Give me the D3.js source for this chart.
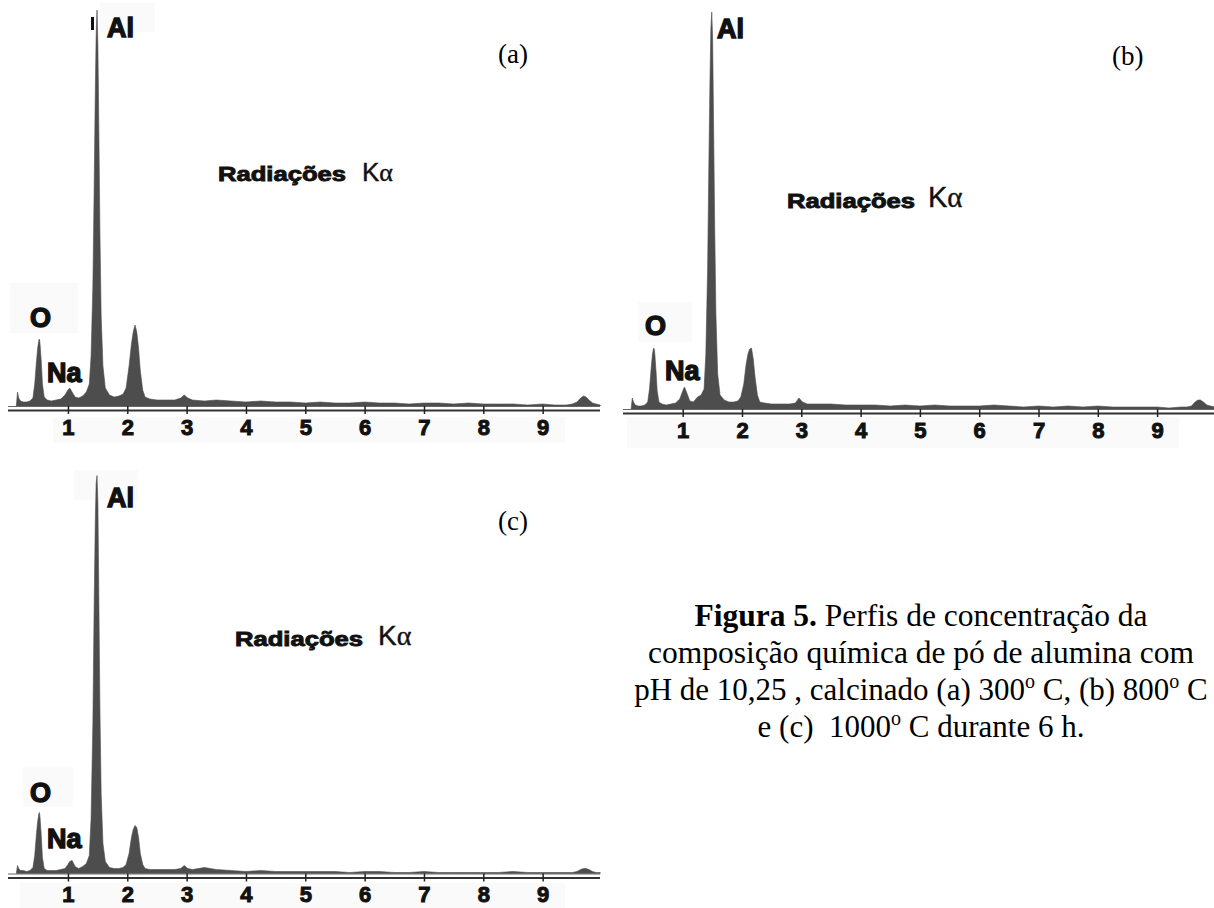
<!DOCTYPE html>
<html>
<head>
<meta charset="utf-8">
<title>Figura 5</title>
<script src="https://d3js.org/d3.v7.min.js"></script>
<style>
    body {
        margin: 0;
        background: #fff;
    }

    .lbl {
        font-family: "Liberation Sans", Arial, sans-serif;
        font-weight: bold;
        fill: #111;
        stroke: #111;
        stroke-width: 1.4px;
    }

    .tick text {
        font-family: "Liberation Sans", Arial, sans-serif;
        font-weight: bold;
        font-size: 22px;
        fill: #111;
        stroke: #111;
        stroke-width: 1px;
    }

    .tick line {
        stroke: #222;
        stroke-width: 1.5px;
    }

    .panel-name {
        font-family: "Liberation Serif", "Times New Roman", serif;
        font-size: 27px;
        fill: #000;
    }

    .caption {
        font-family: "Liberation Serif", "Times New Roman", serif;
        font-size: 31.5px;
        fill: #000;
        white-space: pre;
    }
</style>
</head>
<body>
<div id="chart"></div>
<script>
    // energy (keV) shared by the three spectra
    const energy = [0.13, 0.15, 0.17, 0.2, 0.25, 0.3, 0.36, 0.41, 0.44, 0.47, 0.49, 0.51, 0.52, 0.53, 0.55, 0.57, 0.6, 0.65,
        0.72, 0.8, 0.88, 0.95, 1.0, 1.03, 1.07, 1.12, 1.18, 1.25, 1.31, 1.36, 1.39, 1.42, 1.44, 1.46, 1.475, 1.49, 1.505,
        1.52, 1.54, 1.56, 1.59, 1.63, 1.7, 1.78, 1.86, 1.93, 1.98, 2.03, 2.07, 2.1, 2.13, 2.16, 2.19, 2.22, 2.26, 2.3,
        2.38, 2.5, 2.65, 2.8, 2.9, 2.96, 3.02, 3.1, 3.3, 3.5, 3.75, 4.0, 4.25, 4.5, 4.75, 5.0, 5.25, 5.5, 5.75, 6.0, 6.25,
        6.5, 6.75, 7.0, 7.25, 7.5, 7.75, 8.0, 8.25, 8.5, 8.75, 9.0, 9.2, 9.4, 9.5, 9.58, 9.64, 9.69, 9.73, 9.78, 9.84,
        9.9, 9.97];

    // counts, arbitrary units (Al peak ~ 400)
    const countsA = [0, 14, 8, 5, 4, 4, 5, 8, 22, 45, 58, 66, 67, 62, 45, 22, 9, 6,
        5, 6, 7, 11, 16, 18, 14, 9, 8, 10, 14, 22, 50, 120, 210, 310, 370, 396, 360,
        280, 170, 90, 40, 18, 11, 9, 10, 12, 18, 40, 62, 74, 81, 74, 58, 35, 16, 9,
        7, 6, 6, 6, 8, 11, 8, 6, 5, 6, 5, 4, 5, 4, 4, 3, 4, 3, 3, 4, 3,
        3, 2, 3, 3, 2, 3, 2, 2, 2, 1, 2, 1, 1, 2, 4, 8, 10, 9, 6, 3,
        2, 1];

    const countsB = [0, 11, 7, 4, 3, 3, 4, 7, 20, 42, 55, 61, 60, 55, 38, 18, 7, 5,
        4, 5, 6, 10, 18, 22, 16, 8, 7, 12, 14, 20, 55, 140, 240, 330, 380, 397, 370,
        290, 180, 95, 35, 14, 9, 7, 7, 8, 12, 25, 45, 55, 60, 61, 50, 32, 14, 7,
        6, 5, 5, 5, 6, 11, 7, 5, 5, 5, 4, 4, 4, 3, 4, 3, 4, 3, 3, 3, 4,
        3, 2, 3, 2, 3, 2, 3, 2, 2, 2, 2, 1, 2, 2, 3, 7, 9, 9, 7, 4,
        3, 2];

    const countsC = [0, 8, 5, 3, 3, 2, 3, 6, 18, 40, 52, 60, 61, 56, 38, 16, 5, 3,
        3, 3, 4, 5, 9, 12, 13, 7, 5, 7, 10, 18, 55, 150, 260, 350, 390, 398, 370,
        280, 160, 80, 30, 12, 6, 5, 5, 6, 9, 20, 36, 44, 48, 46, 36, 20, 9, 5,
        4, 4, 4, 4, 5, 8, 5, 4, 6, 4, 3, 2, 3, 2, 2, 2, 2, 2, 1, 2, 2,
        1, 1, 2, 1, 1, 1, 1, 1, 2, 1, 1, 1, 1, 1, 2, 4, 5, 5, 4, 2,
        1, 1];

    const tickValues = [1, 2, 3, 4, 5, 6, 7, 8, 9];
    const panelNames = ["(a)", "(b)", "(c)"];
    const elementLabels = ["Al", "O", "Na"];
    const radiationLabel = "Radiações";

    const width = 1214, height = 908;
    const fillColor = "#4d4d4d";

    // layout of each panel (pixels)
    const layout = [
        {
            counts: countsA, x0: 8.6, x10: 602, axisY: 406, line: [8, 600],
            labels: [[107, 37], [30, 327], [47, 382]], name: [498, 63],
            rad: [218, 181], ka: [362, 181], kaFont: 26,
            boxes: [[100, 3, 55, 29], [10, 283, 68, 50], [53, 417, 512, 26]], mark: [91, 17]
        },
        {
            counts: countsB, x0: 623.4, x10: 1216.4, axisY: 409, line: [623, 1214],
            labels: [[717, 38], [645, 335], [665, 380]], name: [1112, 65],
            rad: [787, 208], ka: [928, 207], kaFont: 29,
            boxes: [[638, 302, 54, 40], [627, 417, 552, 31]], mark: null
        },
        {
            counts: countsC, x0: 8.6, x10: 602, axisY: 873.5, line: [8, 600],
            labels: [[107, 507], [30, 802], [47, 848]], name: [498, 530],
            rad: [235, 646], ka: [378, 645], kaFont: 28,
            boxes: [[74, 470, 64, 30], [23, 767, 50, 40], [20, 883, 545, 25]], mark: null
        }
    ];

    const svg = d3.select("#chart").append("svg")
        .attr("width", width)
        .attr("height", height)
        .attr("viewBox", `0 0 ${width} ${height}`);

    svg.append("rect").attr("width", width).attr("height", height).attr("fill", "#fff");

    layout.forEach((p, i) => {
        const g = svg.append("g");

        // faint label boxes pasted over the original spectra
        g.selectAll("rect.box")
            .data(p.boxes)
            .join("rect")
            .attr("class", "box")
            .attr("x", d => d[0]).attr("y", d => d[1])
            .attr("width", d => d[2]).attr("height", d => d[3])
            .attr("fill", "#fafafa");

        const x = d3.scaleLinear().domain([0, 10]).range([p.x0, p.x10]);
        const y = d3.scaleLinear().domain([0, 400]).range([p.axisY, p.axisY - 400]);

        const series = energy.map((e, k) => ({ e, c: p.counts[k] }));

        const area = d3.area()
            .x(d => x(d.e))
            .y0(y(0))
            .y1(d => y(d.c));

        g.append("path")
            .datum(series)
            .attr("d", area)
            .attr("fill", fillColor)
            .attr("stroke", fillColor)
            .attr("stroke-width", 0.6);

        // double base line
        g.append("line")
            .attr("x1", p.line[0]).attr("x2", p.line[1])
            .attr("y1", p.axisY + 0.5).attr("y2", p.axisY + 0.5)
            .attr("stroke", "#666").attr("stroke-width", 1.2);
        g.append("line")
            .attr("x1", p.line[0]).attr("x2", p.line[1])
            .attr("y1", p.axisY + 4.5).attr("y2", p.axisY + 4.5)
            .attr("stroke", "#333").attr("stroke-width", 1.8);

        const axis = d3.axisBottom(x)
            .tickValues(tickValues)
            .tickSize(8)
            .tickSizeOuter(0)
            .tickPadding(5)
            .tickFormat(d3.format("d"));

        const ga = g.append("g")
            .attr("transform", `translate(0,${p.axisY})`)
            .call(axis);
        ga.select(".domain").remove();

        // element labels
        g.selectAll("text.lbl")
            .data(elementLabels)
            .join("text")
            .attr("class", "lbl")
            .attr("x", (d, k) => p.labels[k][0])
            .attr("y", (d, k) => p.labels[k][1])
            .attr("font-size", 27)
            .text(d => d);

        if (p.mark) {
            g.append("rect")
                .attr("x", p.mark[0]).attr("y", p.mark[1])
                .attr("width", 3).attr("height", 13)
                .attr("fill", "#111");
        }

        g.append("text")
            .attr("class", "panel-name")
            .attr("x", p.name[0]).attr("y", p.name[1])
            .text(panelNames[i]);

        g.append("text")
            .attr("class", "lbl")
            .attr("x", p.rad[0]).attr("y", p.rad[1])
            .attr("font-size", 20)
            .style("stroke-width", "0.9px")
            .attr("textLength", 128)
            .attr("lengthAdjust", "spacingAndGlyphs")
            .text(radiationLabel);

        const ka = g.append("text")
            .attr("x", p.ka[0]).attr("y", p.ka[1])
            .attr("font-size", p.kaFont)
            .attr("fill", "#111")
            .attr("stroke", "#111")
            .attr("stroke-width", 0.4);
        ka.append("tspan")
            .attr("font-family", "Liberation Sans, Arial, sans-serif")
            .text("K");
        ka.append("tspan")
            .attr("font-family", "Liberation Serif, Times New Roman, serif")
            .text("α");
    });

    // caption
    const cx = 921;
    const cap = svg.append("g");

    const l1 = cap.append("text").attr("class", "caption").attr("x", cx).attr("y", 626).attr("text-anchor", "middle");
    l1.append("tspan").attr("font-weight", "bold").text("Figura 5.");
    l1.append("tspan").text(" Perfis de concentração da");

    cap.append("text").attr("class", "caption").attr("x", cx).attr("y", 663).attr("text-anchor", "middle")
        .text("composição química de pó de alumina com");

    function withDegrees(sel, parts) {
        parts.forEach((s, k) => {
            sel.append("tspan").attr("dy", k === 0 ? 0 : 12).attr("font-size", 31).text(s);
            if (k < parts.length - 1) {
                sel.append("tspan").attr("dy", -12).attr("font-size", 20).text("o");
            }
        });
    }

    const l3 = cap.append("text").attr("class", "caption").attr("x", cx).attr("y", 700).attr("text-anchor", "middle");
    withDegrees(l3, ["pH de 10,25 , calcinado (a) 300", " C, (b) 800", " C"]);

    const l4 = cap.append("text").attr("class", "caption").attr("x", cx).attr("y", 737).attr("text-anchor", "middle");
    withDegrees(l4, ["e (c)  1000", " C durante 6 h."]);
</script>
</body>
</html>
